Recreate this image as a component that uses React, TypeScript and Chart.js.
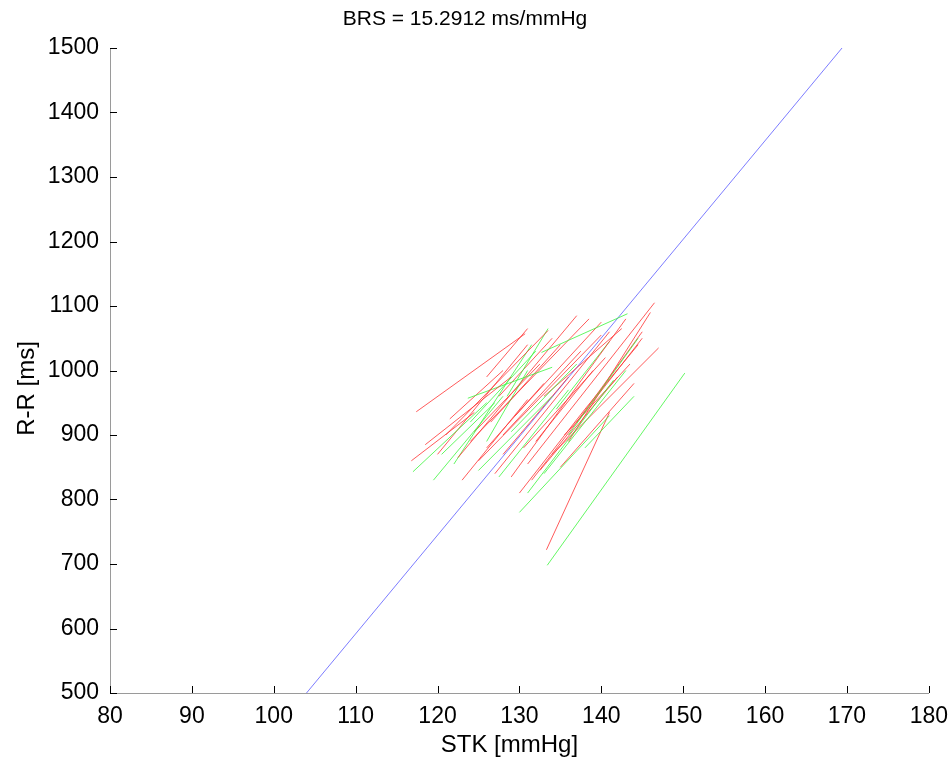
import React, { useEffect, useRef } from "react";
import { Chart, registerables } from "chart.js";

Chart.register(...registerables);

const xTicks = [80, 90, 100, 110, 120, 130, 140, 150, 160, 170, 180];
const yTicks = [500, 600, 700, 800, 900, 1000, 1100, 1200, 1300, 1400, 1500];

const brsTitle = "BRS = 15.2912 ms/mmHg";
const xLabel = "STK [mmHg]";
const yLabel = "R-R [ms]";
const regressionLine = [
  [104.0, 500],
  [169.4, 1500],
];

// [x1, y1, x2, y2]
const redSegments = [
  [117.4, 936, 130.7, 1057],
  [116.8, 860, 124.5, 935],
  [118.5, 885, 129, 990],
  [120, 870, 131, 1040],
  [121, 900, 133.5, 1062],
  [122.5, 865, 137, 1085],
  [123, 830, 131, 955],
  [124, 890, 138.5, 1080],
  [125, 860, 140, 1055],
  [126, 880, 133, 980],
  [127, 840, 141, 1060],
  [128, 870, 136, 990],
  [129, 835, 143, 1080],
  [130, 810, 138, 940],
  [131, 855, 146.5, 1105],
  [131.5, 830, 145, 1050],
  [133.3, 722, 141, 935],
  [134, 870, 147, 1035],
  [135, 850, 144, 980],
  [136, 890, 146, 1090],
  [132, 890, 139, 1000],
  [137, 920, 145, 1060],
  [127.5, 960, 134, 1050],
  [126, 990, 131, 1065],
  [121.5, 925, 128, 1000],
  [133, 960, 142.5, 1065],
  [138, 940, 144.5, 1040],
  [129.5, 930, 140, 1075],
  [124.5, 905, 132.5, 1010],
  [128, 900, 137.5, 1030],
  [130.5, 880, 140.5, 1020],
  [126.5, 920, 135, 1040],
  [132.5, 845, 142, 990],
  [135.5, 900, 143.5, 1010],
];

const greenSegments = [
  [133.4, 698, 150.2, 996],
  [117, 843, 126, 950],
  [130, 780, 141, 930],
  [132.7, 1028, 143.2, 1088],
  [123.7, 957, 134, 1005],
  [119.5, 830, 128, 960],
  [122, 855, 131.5, 1040],
  [125, 845, 134, 960],
  [127.5, 835, 136, 970],
  [131, 810, 141.5, 985],
  [133, 840, 143, 1000],
  [126, 890, 131, 1000],
  [128.5, 960, 133.5, 1065],
  [136, 900, 144.5, 1050],
  [138, 880, 144, 960],
  [124, 920, 132, 1030],
  [120.5, 870, 127, 950],
  [129, 905, 137, 1010],
  [134.5, 940, 141, 1045],
];

const FONT = "'Liberation Sans', Arial, Helvetica, sans-serif";

export default function App() {
  const ref = useRef<HTMLCanvasElement | null>(null);

  useEffect(() => {
    if (!ref.current) return;
    const seg = (s: number[], color: string) => ({
      data: [
        { x: s[0], y: s[1] },
        { x: s[2], y: s[3] },
      ],
      borderColor: color,
      borderWidth: 1,
      pointRadius: 0,
      showLine: true,
      fill: false,
    });
    const datasets: any[] = [];
    const n = Math.max(redSegments.length, greenSegments.length);
    for (let i = 0; i < n; i++) {
      if (redSegments[i]) datasets.push(seg(redSegments[i], "rgba(255,50,50,0.8)"));
      if (greenSegments[i]) datasets.push(seg(greenSegments[i], "rgba(60,245,60,0.8)"));
    }
    datasets.push({
      data: regressionLine.map((p) => ({ x: p[0], y: p[1] })),
      borderColor: "rgba(80,80,255,0.75)",
      borderWidth: 1,
      pointRadius: 0,
      showLine: true,
      fill: false,
    });

    const tickPlugin = {
      id: "inwardTicks",
      afterDraw(chart: any) {
        const ctx = chart.ctx;
        const xs = chart.scales.x;
        const ys = chart.scales.y;
        const { left, bottom, top, right } = chart.chartArea;
        ctx.save();
        ctx.strokeStyle = "#000";
        ctx.lineWidth = 1;
        ctx.beginPath();
        xTicks.forEach((v) => {
          const px = Math.round(xs.getPixelForValue(v)) + 0.5;
          ctx.moveTo(px, bottom);
          ctx.lineTo(px, bottom - 7);
        });
        yTicks.forEach((v) => {
          const py = Math.round(ys.getPixelForValue(v)) + 0.5;
          ctx.moveTo(left, py);
          ctx.lineTo(left + 7, py);
        });
        ctx.stroke();
        // axis titles
        ctx.fillStyle = "#000";
        ctx.font = `24px ${FONT}`;
        ctx.textAlign = "center";
        ctx.textBaseline = "middle";
        ctx.fillText(xLabel, (left + right) / 2 - 10, 745);
        ctx.translate(27, (top + bottom) / 2 + 18);
        ctx.rotate(-Math.PI / 2);
        ctx.fillText(yLabel, 0, 0);
        ctx.restore();
      },
    };

    const chart = new Chart(ref.current, {
      type: "scatter",
      data: { datasets },
      options: {
        animation: false,
        responsive: false,
        layout: { padding: { left: 0, right: 20, top: 0, bottom: 0 } },
        plugins: {
          legend: { display: false },
          tooltip: { enabled: false },
          title: {
            display: true,
            text: brsTitle,
            color: "#000",
            font: { family: FONT, size: 21, weight: "normal" },
            padding: { top: 7, bottom: 15.8 },
          },
        },
        scales: {
          x: {
            type: "linear",
            min: 80,
            max: 180,
            afterBuildTicks: (s: any) => {
              s.ticks = xTicks.map((v) => ({ value: v }));
            },
            afterFit: (s: any) => {
              s.height = 70;
            },
            grid: { display: false },
            border: { display: true, color: "#9a9a9a", width: 1 },
            ticks: {
              color: "#000",
              padding: 2,
              font: { family: FONT, size: 23 },
              maxRotation: 0,
              callback: (v: any) => String(v),
            },
          },
          y: {
            type: "linear",
            min: 500,
            max: 1500,
            afterBuildTicks: (s: any) => {
              s.ticks = yTicks.map((v) => ({ value: v }));
            },
            afterFit: (s: any) => {
              s.width = 110;
            },
            grid: { display: false },
            border: { display: true, color: "#9a9a9a", width: 1 },
            ticks: {
              color: "#000",
              padding: 3,
              font: { family: FONT, size: 23 },
              callback: (v: any) => String(v),
            },
          },
        },
      },
      plugins: [tickPlugin],
    });
    return () => chart.destroy();
  }, []);

  return (
    <div style={{ position: "fixed", left: 0, top: 0, width: 950, height: 763, background: "#fff" }}>
      <canvas ref={ref} width={950} height={763} style={{ width: 950, height: 763, display: "block" }} />
    </div>
  );
}
